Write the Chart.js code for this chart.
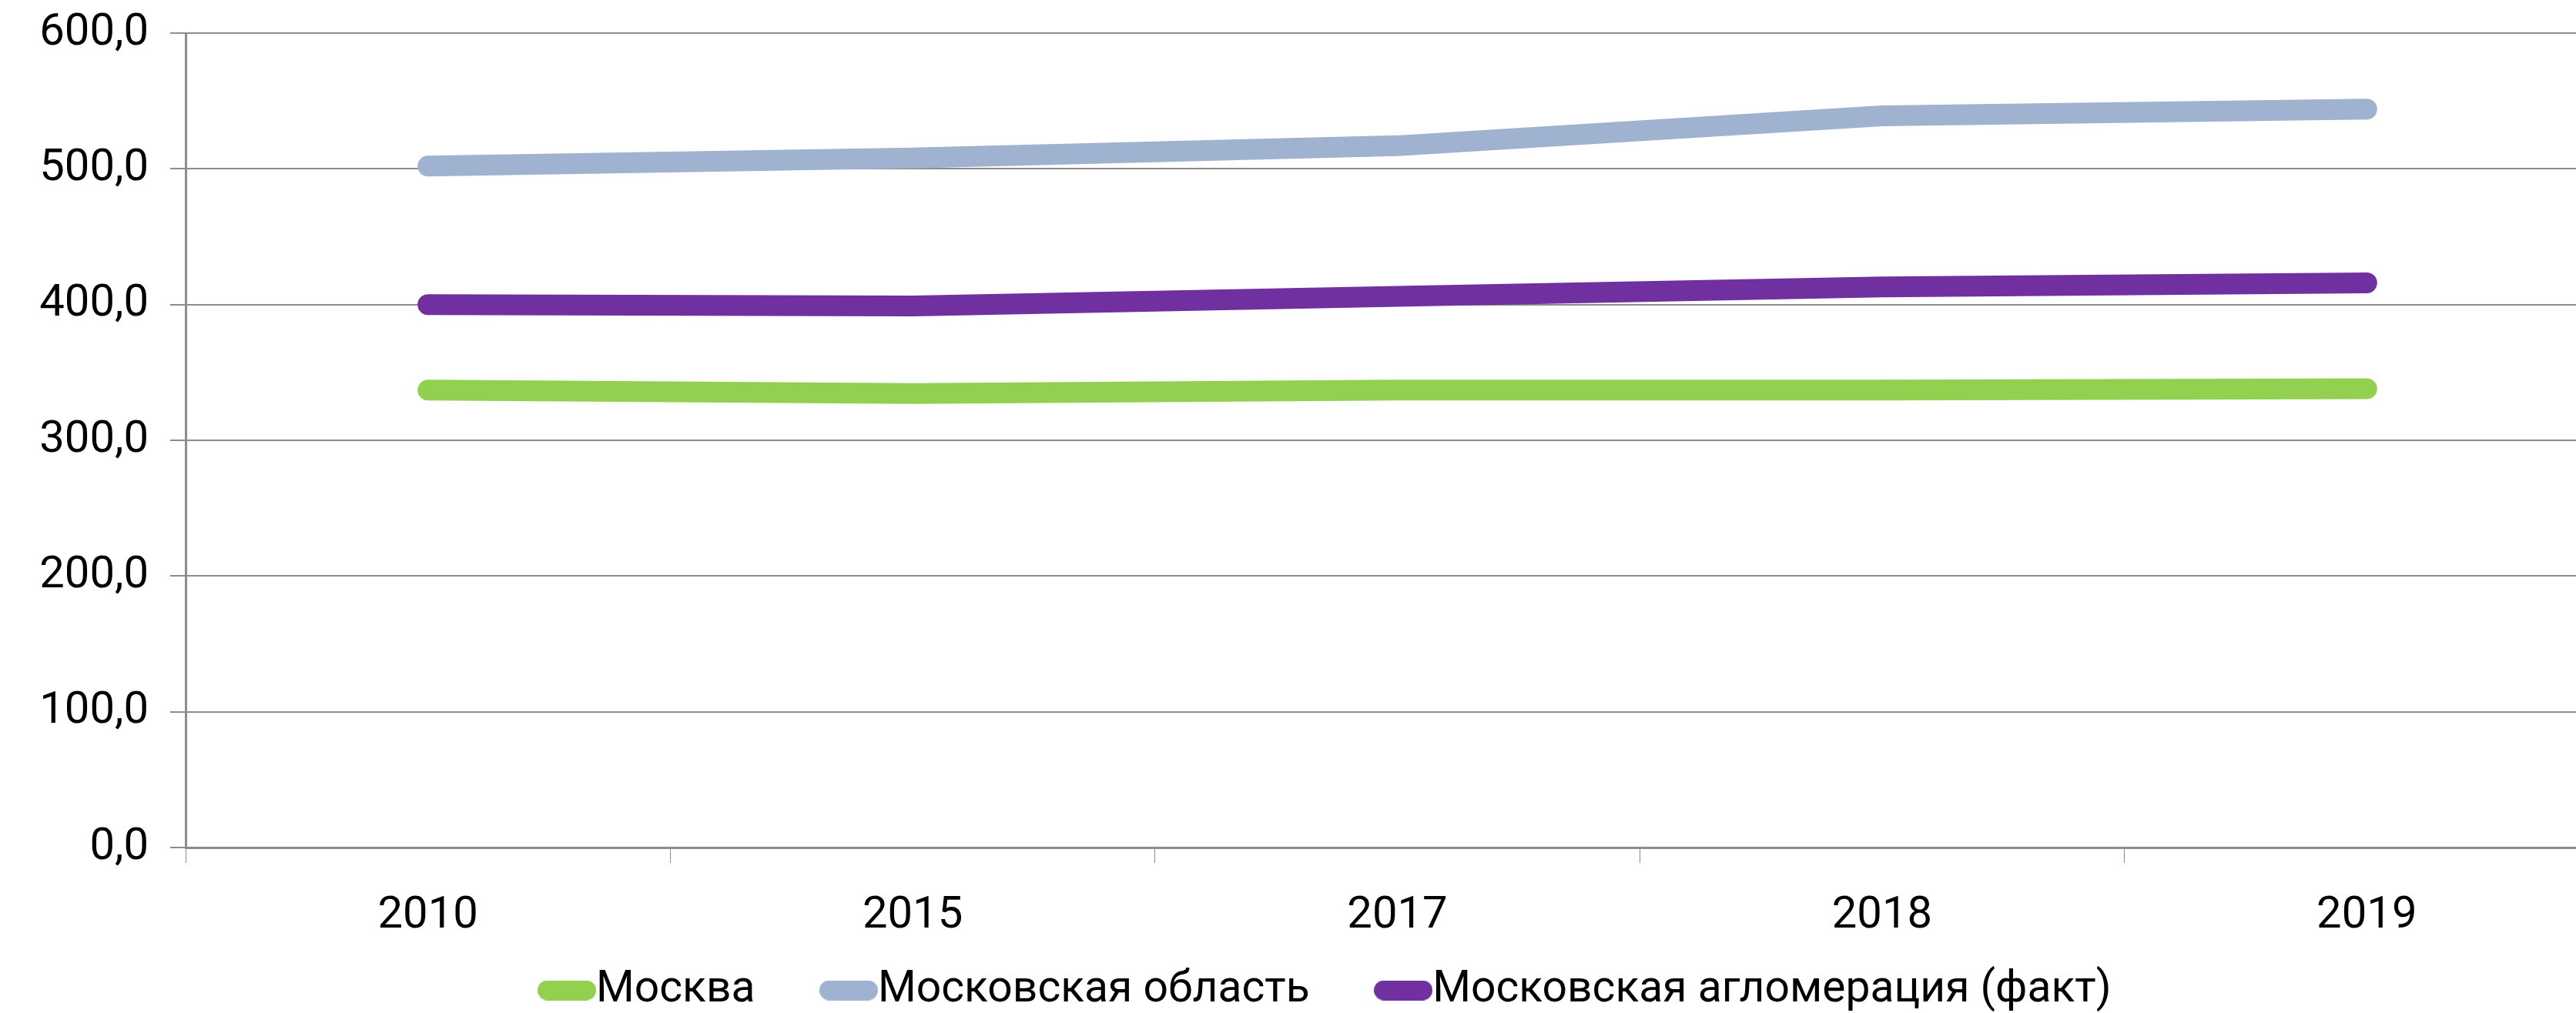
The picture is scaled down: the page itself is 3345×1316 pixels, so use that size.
<!DOCTYPE html>
<html>
<head>
<meta charset="utf-8">
<script src="https://cdn.jsdelivr.net/npm/chart.js@4.4.0/dist/chart.umd.min.js"></script>
<style>
  html, body { margin: 0; padding: 0; background: #fff; overflow: hidden; }
  #wrap { width: 3388px; height: 1316px; }
</style>
</head>
<body>
<div id="wrap"><canvas id="myChart"></canvas></div>
<script>
// данные
const years = ['2010', '2015', '2017', '2018', '2019'];
const moskva = [337, 334.5, 337, 337, 338];
const oblast = [502, 508, 517, 539, 544];
const aglomeraciya = [400, 399, 406, 413, 416];
const yTicks = [0, 100, 200, 300, 400, 500, 600];

const FONT = { family: 'Roboto, "Noto Sans", sans-serif', size: 57 };
const TICK_FONT = { family: 'Roboto, "Noto Sans", sans-serif', size: 58 };
const GRID = '#8c8c8c';

const mkLine = (label, data, color) => ({
  label: label,
  data: data,
  borderColor: color,
  backgroundColor: color,
  borderWidth: 27,
  borderCapStyle: 'round',
  borderJoinStyle: 'round',
  pointRadius: 0,
  tension: 0,
  fill: false
});

// маркер легенды — короткая скруглённая полоска
const pill = (color) => {
  const c = document.createElement('canvas');
  c.width = 76;
  c.height = 26;
  const g = c.getContext('2d');
  g.fillStyle = color;
  g.beginPath();
  g.roundRect(0, 0, 76, 26, 13);
  g.fill();
  return c;
};

// подписи оси X не обрезаются, легенда чуть правее центра (как в оригинале)
const tweakLayout = {
  id: 'tweakLayout',
  afterLayout(chart) {
    chart.scales.x.bottom = chart.height;
    chart.legend.left += 40;
    chart.legend.right += 40;
  }
};

const ctx = document.getElementById('myChart');
new Chart(ctx, {
  type: 'line',
  data: {
    labels: years,
    datasets: [
      mkLine('Москва', moskva, '#92d050'),
      mkLine('Московская область', oblast, '#9fb2cf'),
      mkLine('Московская агломерация (факт)', aglomeraciya, '#7030a0')
    ]
  },
  plugins: [tweakLayout],
  options: {
    responsive: true,
    maintainAspectRatio: false,
    animation: false,
    layout: { padding: { top: 43, bottom: -9, right: 0, left: 0 } },
    plugins: {
      tooltip: { enabled: false },
      legend: {
        position: 'bottom',
        labels: {
          font: FONT,
          color: '#000',
          usePointStyle: true,
          pointStyleWidth: 19,
          padding: 112,
          generateLabels: (chart) =>
            Chart.defaults.plugins.legend.labels.generateLabels(chart).map(l => ({
              ...l,
              lineWidth: 0,
              pointStyle: pill(l.fillStyle)
            }))
        }
      }
    },
    scales: {
      x: {
        offset: true,
        grid: { offset: true, drawOnChartArea: false, tickLength: 20, color: GRID },
        border: { color: GRID, width: 3 },
        ticks: { font: TICK_FONT, color: '#000', padding: 35, maxRotation: 0 },
        afterFit: (scale) => { scale.height = 45; }
      },
      y: {
        min: 0,
        max: 600,
        afterBuildTicks: (scale) => { scale.ticks = yTicks.map(v => ({ value: v })); },
        grid: { color: GRID, lineWidth: 2, tickLength: 20 },
        border: { color: GRID, width: 3 },
        ticks: {
          font: TICK_FONT,
          color: '#000',
          padding: 28,
          callback: (v) => v.toFixed(1).replace('.', ',')
        },
        afterFit: (scale) => {
          scale.width = 241;
          scale.paddingTop = 0;
          scale.paddingBottom = 0;
        }
      }
    }
  }
});
</script>
</body>
</html>
